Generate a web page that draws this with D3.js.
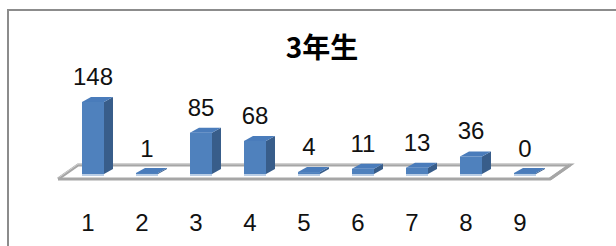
<!DOCTYPE html>
<html>
<head>
<meta charset="utf-8">
<script src="https://cdn.jsdelivr.net/npm/d3@7"></script>
<style>
  body { margin: 0; background: #fff; }
  svg { display: block; }
  .lbl { font-family: "Liberation Sans", Arial, sans-serif; font-size: 24px; fill: #111; }
</style>
</head>
<body>
<svg id="chart" width="616" height="246"></svg>
<script>
const categories = ['1', '2', '3', '4', '5', '6', '7', '8', '9'];
const counts = [148, 1, 85, 68, 4, 11, 13, 36, 0];
const title = '3年生';

const svg = d3.select('#chart');
const width = 616, height = 246;

// outer frame (runs off the right/bottom edge)
svg.append('rect')
  .attr('x', 8).attr('y', 10)
  .attr('width', 700).attr('height', 300)
  .attr('fill', '#fff')
  .attr('stroke', '#8c8c8c')
  .attr('stroke-width', 2);

svg.append('text')
  .attr('x', 322).attr('y', 58)
  .attr('text-anchor', 'middle')
  .style('font-family', '"Noto Sans CJK JP", sans-serif')
  .style('font-weight', 'bold')
  .style('font-size', '28px')
  .attr('fill', '#000')
  .text(title);

// category positions (labels sit a little left of bars because of the perspective)
const x = d3.scalePoint().domain(categories).range([88, 520]);
const barShift = 5;
const y = d3.scaleLinear().domain([0, 150]).range([174, 101]);
const barW = 22, dx = 9, dy = -5, minH = 1;

// floor slab
const floor = { bl: [58, 179], br: [550, 179], tr: [570, 165], tl: [78, 165] };
const line = d3.line();
svg.append('path')
  .attr('d', line([floor.bl, floor.tl, floor.tr, floor.br]))
  .attr('fill', 'none')
  .attr('stroke', '#a6a6a6')
  .attr('stroke-width', 3);
svg.append('path')
  .attr('d', line([floor.bl, floor.tl, floor.tr, floor.br]))
  .attr('fill', 'none')
  .attr('stroke', '#d0d0d0')
  .attr('stroke-width', 1)
  .attr('transform', 'translate(0,-1)');

const bars = svg.append('g').selectAll('g')
  .data(categories.map((c, i) => ({ c, v: counts[i] })))
  .join('g');

bars.each(function (d) {
  const g = d3.select(this);
  const cx = x(d.c) + barShift;
  const x0 = cx - barW / 2, x1 = cx + barW / 2;
  const yb = y(0);
  const yt = Math.min(y(d.v), yb - minH);

  // shadow/reflection on the floor
  g.append('rect')
    .attr('x', x0).attr('y', yb)
    .attr('width', barW).attr('height', 2)
    .attr('fill', '#b9cde5');
  // side
  g.append('path')
    .attr('d', line([[x1, yt], [x1 + dx, yt + dy], [x1 + dx, yb + dy], [x1, yb]]) + 'Z')
    .attr('fill', '#385d8a');
  // top
  g.append('path')
    .attr('d', line([[x0, yt], [x0 + dx, yt + dy], [x1 + dx, yt + dy], [x1, yt]]) + 'Z')
    .attr('fill', '#4a7cbb');
  // front
  g.append('rect')
    .attr('x', x0).attr('y', yt)
    .attr('width', barW).attr('height', yb - yt)
    .attr('fill', '#4f81bd');

  g.append('text')
    .attr('class', 'lbl')
    .attr('x', cx).attr('y', y(d.v) - 17)
    .attr('text-anchor', 'middle')
    .text(d.v);
});

// front edge of the floor drawn over the bars' feet
svg.append('path')
  .attr('d', line([floor.bl, floor.br, floor.tr]))
  .attr('fill', 'none')
  .attr('stroke', '#a6a6a6')
  .attr('stroke-width', 3);

svg.append('g').selectAll('text')
  .data(categories)
  .join('text')
  .attr('class', 'lbl')
  .attr('x', d => x(d))
  .attr('y', 231)
  .attr('text-anchor', 'middle')
  .text(d => d);
</script>
</body>
</html>
